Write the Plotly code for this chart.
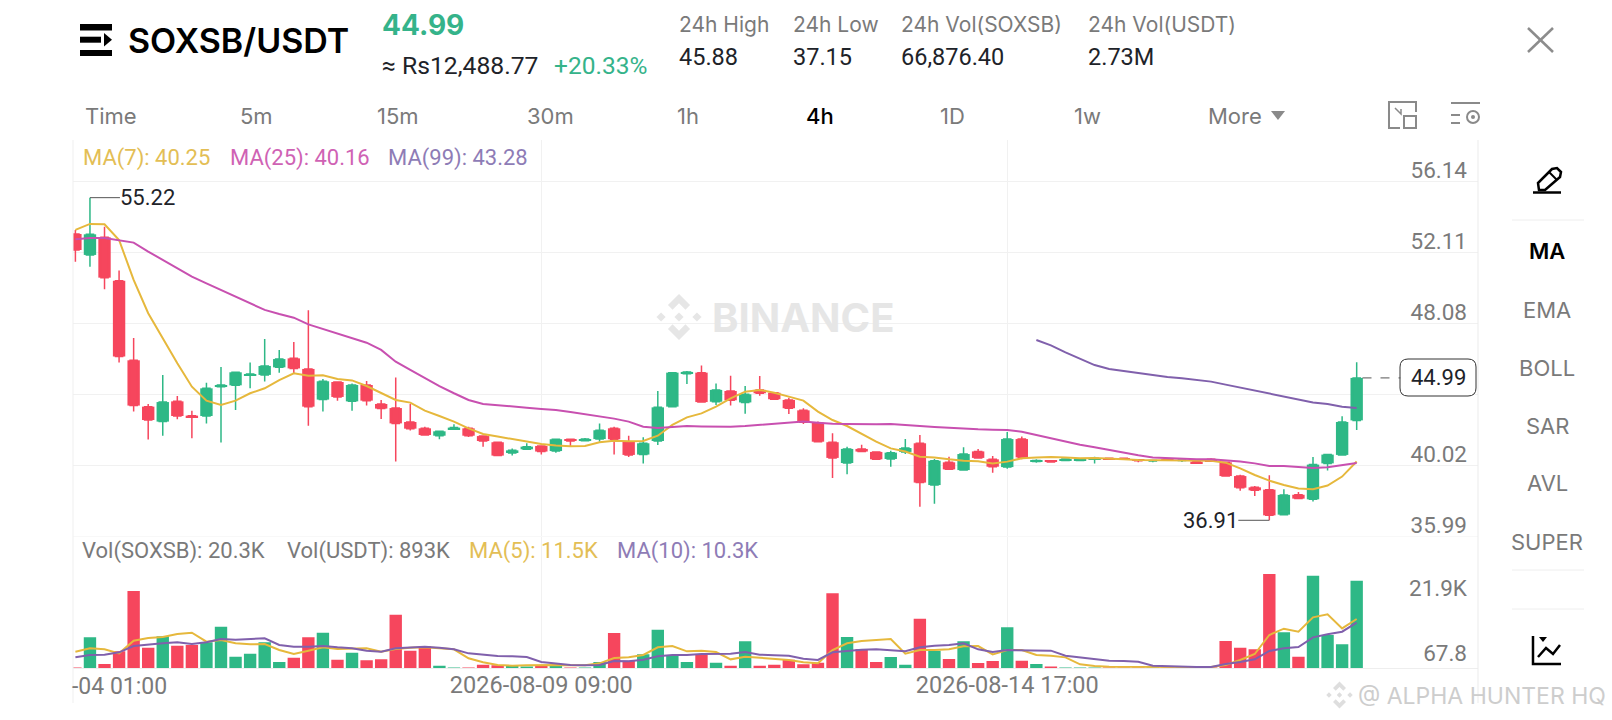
import plotly.graph_objects as go

# ---------- data ----------
open_ = [53.16,51.97,52.97,50.51,45.99,43.36,42.51,43.66,42.85,42.83,44.49,44.57,45.14,45.16,45.59,46.10,45.50,43.76,44.76,43.66,44.59,43.51,43.28,42.49,42.13,41.71,42.07,42.13,41.69,
         41.34,40.73,40.94,41.13,40.84,41.51,41.43,41.52,42.13,41.37,40.64,41.41,43.36,45.23,45.29,43.64,44.25,43.60,44.31,44.15,43.74,43.15,42.45,41.34,40.16,40.96,40.79,40.39,40.79,41.28,38.91,
         40.20,39.76,40.82,40.37,39.93,41.52,40.24,40.29,40.31,40.31,40.37,40.43,40.43,40.35,40.28,40.37,40.31,40.24,40.37,40.20,39.42,38.78,38.65,37.23,38.36,38.10,40.14,40.62,42.58]
high = [53.39,55.22,53.57,51.08,47.26,43.51,45.16,43.96,43.13,44.72,45.61,45.35,45.86,47.20,46.58,47.03,48.83,44.93,44.80,44.68,44.82,43.74,45.02,43.51,42.22,42.00,42.36,42.22,41.73,
        41.35,40.99,41.28,41.17,41.54,41.54,41.58,42.41,42.22,41.71,41.62,44.25,45.29,45.38,45.69,44.68,45.12,44.53,45.10,44.19,43.87,43.27,42.51,41.85,41.09,41.20,40.81,40.86,41.52,41.75,40.39,
        40.52,41.05,40.96,40.56,41.92,41.66,40.37,40.31,40.43,40.39,40.52,40.45,40.45,40.37,40.33,40.39,40.37,40.28,40.43,40.24,39.50,38.86,39.46,38.67,38.52,40.50,40.67,42.81,45.88]
low = [51.59,51.30,50.02,45.86,43.08,41.49,41.71,42.64,41.56,42.41,41.32,43.17,44.40,44.78,45.29,45.25,42.28,43.08,43.70,43.13,43.42,42.66,40.24,42.00,41.71,41.51,42.03,41.64,41.09,
       40.54,40.58,40.90,40.65,40.75,41.13,41.39,41.37,40.65,40.50,40.14,41.18,43.36,44.65,43.60,43.45,43.42,42.96,43.98,43.76,42.94,42.38,41.37,39.31,39.52,40.79,40.37,39.95,40.67,37.68,37.85,
       39.76,39.75,40.41,39.61,39.84,40.37,40.18,40.20,40.29,40.26,40.14,40.35,40.37,40.20,40.20,40.31,40.22,40.14,40.22,39.42,38.59,38.29,36.91,37.21,38.10,37.97,39.73,40.62,42.04]
close = [52.25,53.14,50.68,46.20,43.42,42.60,43.62,42.83,42.77,44.40,44.59,45.31,45.21,45.67,46.06,45.53,43.36,44.80,43.91,44.59,43.70,43.25,42.41,42.11,41.75,41.96,42.17,41.71,41.41,
         40.58,40.88,41.09,40.81,41.51,41.41,41.52,42.02,41.51,40.62,41.28,43.32,45.29,45.33,43.62,44.31,43.72,44.06,44.12,43.78,43.27,42.47,41.37,40.45,40.96,40.81,40.37,40.75,41.01,39.05,40.29,
         39.80,40.67,40.45,39.95,41.52,40.48,40.31,40.22,40.39,40.37,40.43,40.37,40.39,40.29,40.31,40.33,40.33,40.16,40.26,39.42,38.76,38.61,37.19,38.35,38.14,40.07,40.64,42.49,44.99]
ma7 = [53.39,53.73,53.71,52.82,50.55,48.66,47.24,45.82,44.49,43.70,43.45,43.70,44.12,44.40,44.87,45.25,45.12,45.14,44.93,44.85,44.53,44.12,43.74,43.59,43.13,42.83,42.51,42.13,41.81,
       41.66,41.52,41.39,41.24,41.15,41.11,41.13,41.34,41.43,41.39,41.41,41.71,42.32,42.75,42.98,43.36,43.83,44.21,44.31,44.15,43.93,43.70,43.08,42.60,42.26,41.81,41.37,40.99,40.81,40.52,40.48,
       40.37,40.29,40.26,40.14,40.24,40.43,40.47,40.50,40.47,40.43,40.45,40.39,40.37,40.33,40.33,40.33,40.31,40.31,40.29,40.18,39.86,39.48,39.16,38.91,38.71,38.67,38.88,39.39,40.25]
ma25 = [52.86,52.93,52.93,52.82,52.67,52.16,51.68,51.21,50.74,50.36,49.98,49.60,49.22,48.85,48.62,48.41,48.03,47.77,47.52,47.27,46.99,46.58,45.91,45.44,44.97,44.53,44.12,43.74,43.51,
        43.45,43.40,43.30,43.23,43.17,43.06,42.94,42.83,42.68,42.51,42.22,42.15,42.22,42.26,42.24,42.22,42.22,42.26,42.32,42.39,42.47,42.51,42.45,42.39,42.38,42.36,42.36,42.38,42.34,42.26,42.20,
        42.15,42.11,42.07,42.05,42.03,41.94,41.75,41.54,41.35,41.20,41.05,40.90,40.73,40.60,40.48,40.43,40.41,40.37,40.37,40.31,40.24,40.14,39.99,39.99,39.92,39.88,39.92,40.03,40.16]
ma99 = [None]*66 + [47.14,46.84,46.44,46.07,45.72,45.50,45.38,45.25,45.12,45.04,44.97,44.89,44.78,44.61,44.44,44.29,44.10,43.91,43.74,43.60,43.51,43.36,43.28]
volume = [0.05,10.33,1.35,5.62,25.94,6.85,10.67,7.52,7.75,8.65,13.93,3.82,4.83,8.65,2.02,3.48,10.33,11.90,2.81,5.17,2.58,2.92,17.97,5.84,7.30,0.79,0.07,0.07,1.12,
          0.90,0.79,0.22,0.90,0.79,0.11,0.11,2.02,11.79,2.47,4.60,12.91,4.38,2.02,4.60,1.80,0.79,8.98,0.79,1.12,2.81,1.24,1.80,25.16,10.44,6.40,2.02,3.71,1.12,16.62,5.84,
          3.03,8.98,1.68,2.36,13.70,2.47,1.35,0.22,0.08,0.08,0.08,0.08,0.08,0.08,0.08,0.08,0.08,0.08,0.08,9.10,6.85,6.29,31.67,12.02,3.82,31.11,11.12,7.97,29.42]
vol_ma5 = [5.50,6.63,6.29,4.94,9.21,10.11,10.44,11.45,11.90,8.87,9.43,8.31,7.97,8.09,6.06,4.72,5.84,6.96,6.40,6.51,6.63,5.50,6.40,6.85,6.96,6.63,6.29,3.26,1.91,
           1.01,0.79,0.90,1.01,1.01,0.90,0.90,1.57,3.37,3.59,4.38,6.96,7.41,5.62,5.84,5.39,2.92,3.82,3.37,2.92,2.70,1.91,1.57,6.06,8.31,9.10,9.43,9.77,4.83,6.06,6.06,
           6.29,7.30,7.41,4.60,6.06,6.06,4.38,4.16,3.59,1.24,0.67,0.45,0.45,0.45,0.56,0.45,0.34,0.34,0.34,1.01,2.70,4.72,11.12,13.25,12.24,17.07,18.08,13.36,16.51]
vol_ma10 = [3.59,4.38,4.49,5.28,7.41,7.97,8.31,8.65,8.09,8.65,9.77,9.55,9.77,9.99,7.75,7.19,7.19,7.41,6.96,6.63,5.84,5.50,6.63,6.85,7.19,6.85,6.29,4.94,4.38,
            4.04,3.93,3.71,2.02,1.46,1.01,0.90,1.01,2.36,2.25,2.81,3.93,4.38,4.38,4.72,4.83,4.83,5.39,4.49,4.27,4.16,3.14,2.70,5.28,5.73,6.18,6.29,5.84,5.62,6.96,7.52,
            7.75,8.31,6.29,5.39,6.06,6.06,5.84,5.84,4.16,3.59,3.26,2.47,2.36,2.13,0.79,0.56,0.45,0.34,0.34,1.35,2.02,2.92,5.73,6.63,7.07,10.33,11.34,12.24,15.27]
candle_index = list(range(len(close)))
price_ticks = [35.99, 40.02, 44.05, 48.08, 52.11, 56.14]
price_tick_text = ["35.99", "40.02", "", "48.08", "52.11", "56.14"]
vol_ticks = [0.0678, 21.9]
vol_tick_text = ["67.8", "21.9K"]
date_ticks = [32, 64]
date_tick_text = ["2026-08-09 09:00", "2026-08-14 17:00"]

# ---------- styles ----------
W, H = 1612, 720
RED, GREEN = "#F6465D", "#2EB886"
YEL, MAG, PUR = "#E6B83C", "#C850B0", "#8060AC"
GREY = "#7A7A7A"
GRID = "#F1F1F1"
FONT = "Inter"
NUM = "Roboto"
px = lambda x: x / W
py = lambda y: 1 - y / H
XRANGE = [(73 - 75.4) / 14.56, (1478 - 75.4) / 14.56]
candle_colors = [GREEN if c >= o else RED for o, c in zip(open_, close)]

fig = go.Figure()
# wicks and thin bodies
fig.add_trace(go.Candlestick(
    x=candle_index, open=open_, high=high, low=low, close=close, xaxis="x", yaxis="y",
    increasing=dict(line=dict(color=GREEN, width=1.5), fillcolor=GREEN),
    decreasing=dict(line=dict(color=RED, width=1.5), fillcolor=RED),
    whiskerwidth=0, hoverinfo="skip"))
# full-width candle bodies
fig.add_trace(go.Bar(x=candle_index, y=[abs(c - o) for o, c in zip(open_, close)],
                     base=[min(o, c) for o, c in zip(open_, close)],
                     marker=dict(color=candle_colors, line_width=0), width=0.85,
                     xaxis="x", yaxis="y", hoverinfo="skip"))
for vals, col in ((ma7, YEL), (ma25, MAG), (ma99, PUR)):
    fig.add_trace(go.Scatter(x=candle_index, y=vals, mode="lines", line=dict(color=col, width=2),
                             xaxis="x", yaxis="y", hoverinfo="skip"))
fig.add_trace(go.Bar(x=candle_index, y=volume, marker=dict(color=candle_colors, line_width=0),
                     width=0.85, xaxis="x2", yaxis="y2", hoverinfo="skip"))
for vals, col in ((vol_ma5, YEL), (vol_ma10, PUR)):
    fig.add_trace(go.Scatter(x=candle_index, y=vals, mode="lines", line=dict(color=col, width=2),
                             xaxis="x2", yaxis="y2", hoverinfo="skip"))

# ---------- shapes ----------
shapes = []
def path(d, fill=None, color=None, width=0, layer="above"):
    shapes.append(dict(type="path", path=d, xref="paper", yref="paper", layer=layer,
                       fillcolor=fill or "rgba(0,0,0,0)",
                       line=dict(color=color or "rgba(0,0,0,0)", width=width)))
def poly(pts, closed=True, **kw):
    d = "M" + " L".join(f"{px(x):.5f},{py(y):.5f}" for x, y in pts) + (" Z" if closed else "")
    path(d, **kw)
def line(x0, y0, x1, y1, color, width=1):
    shapes.append(dict(type="line", xref="paper", yref="paper", x0=px(x0), y0=py(y0), x1=px(x1), y1=py(y1),
                       line=dict(color=color, width=width)))
def rect(x0, y0, x1, y1, fill):
    shapes.append(dict(type="rect", xref="paper", yref="paper", x0=px(x0), y0=py(y0), x1=px(x1), y1=py(y1),
                       fillcolor=fill, line_width=0))
def binance_logo(cx, cy, s, col):
    top = [(0,-1),(.48,-.52),(.28,-.32),(0,-.6),(-.28,-.32),(-.48,-.52)]
    poly([(cx+a*s, cy+b*s) for a, b in top], fill=col, layer="below")
    poly([(cx+a*s, cy-b*s) for a, b in top], fill=col, layer="below")
    for dx in (-.78, 0, .78):
        poly([(cx+(dx+a)*s, cy+b*s) for a, b in [(0,-.2),(.2,0),(0,.2),(-.2,0)]], fill=col, layer="below")

# chart frame
line(73, 140, 73, 703, "#EFEFEF")
line(1478, 140, 1478, 703, "#EBEBEB")
# watermarks
binance_logo(679, 317, 23, "#E6E6E6")
binance_logo(1339.5, 695, 13.5, "#DEDEDE")
# header logo
rect(80, 24, 112, 30.5, "#000000")
rect(80, 36.7, 101, 42.7, "#000000")
poly([(104, 33), (112, 39.7), (104, 46.5)], fill="#000000")
rect(80, 50, 112, 56, "#000000")
# close X
line(1528, 28, 1553, 52, "#8C8C8C", 2.5)
line(1553, 28, 1528, 52, "#8C8C8C", 2.5)
# More triangle
poly([(1271, 111), (1285, 111), (1278, 120)], fill="#8A8A8A")
# toolbar icon 1
poly([(1416, 112), (1416, 102), (1389, 102), (1389, 128), (1400, 128)], closed=False, color="#8A8A8A", width=2)
poly([(1404, 116), (1416, 116), (1416, 128), (1404, 128)], color="#8A8A8A", width=2)
poly([(1395, 108), (1401, 114), (1401, 109)], closed=False, color="#8A8A8A", width=1.5)
# toolbar icon 2
line(1451, 103, 1480, 103, "#8A8A8A", 2)
line(1451, 115, 1460, 115, "#8A8A8A", 2)
line(1451, 123, 1460, 123, "#8A8A8A", 2)
shapes.append(dict(type="circle", xref="paper", yref="paper", x0=px(1467), y0=py(111), x1=px(1479), y1=py(123),
                   line=dict(color="#8A8A8A", width=2)))
shapes.append(dict(type="circle", xref="paper", yref="paper", x0=px(1471), y0=py(115), x1=px(1475), y1=py(119),
                   fillcolor="#8A8A8A", line_width=0))
# pencil
poly([(1539, 190), (1538, 183), (1552, 169), (1557, 168), (1561, 172), (1560, 177), (1545, 190)], color="#000000", width=2.5)
line(1549, 172, 1557, 180, "#000000", 2)
line(1533, 192.5, 1561, 192.5, "#000000", 2.5)
# right menu dividers
for yy in (220, 570, 609):
    line(1512, yy, 1584, yy, "#EEEEEE")
# chart icon
poly([(1533, 636), (1533, 664), (1561, 664)], closed=False, color="#000000", width=2.5)
poly([(1538, 657), (1546, 648), (1553, 654), (1560, 645)], closed=False, color="#000000", width=2.5)
poly([(1539, 637), (1547, 637), (1543, 642)], fill="#000000")
# price tag
x0, x1, y0, y1, r = 1400, 1476, 359, 396, 8
path(f"M{px(x0+r)},{py(y0)} L{px(x1-r)},{py(y0)} Q{px(x1)},{py(y0)} {px(x1)},{py(y0+r)} L{px(x1)},{py(y1-r)} "
     f"Q{px(x1)},{py(y1)} {px(x1-r)},{py(y1)} L{px(x0+r)},{py(y1)} Q{px(x0)},{py(y1)} {px(x0)},{py(y1-r)} "
     f"L{px(x0)},{py(y0+r)} Q{px(x0)},{py(y0)} {px(x0+r)},{py(y0)} Z", fill="#FFFFFF", color="#333333", width=1)
# dashed last-price link
shapes.append(dict(type="line", xref="x", yref="y", x0=88.4, x1=91, y0=close[-1], y1=close[-1],
                   line=dict(color="#555555", width=1, dash="dash")))

# ---------- texts ----------
ann = []
def txt(x, y, s, size=20, color=GREY, anchor="left", weight=400, family=NUM):
    ann.append(dict(x=px(x - 2 if anchor == "left" else x), y=py(y), xref="paper", yref="paper", text=s, showarrow=False,
                    xanchor=anchor, yanchor="middle", borderpad=0,
                    font=dict(family=family, size=size, color=color, weight=weight)))
txt(129, 40, "SOXSB/USDT", 34, "#000000", weight=600, family=FONT)
txt(383, 25, "44.99", 28, "#35B38A", weight=700, family=FONT)
txt(383, 65, "≈ Rs12,488.77", 24.7, "#1E2329")
txt(555, 65, "+20.33%", 24.5, "#35B38A")
for x, s in ((680, "24h High"), (793.6, "24h Low"), (901.6, "24h Vol(SOXSB)"), (1088.7, "24h Vol(USDT)")):
    txt(x, 25, s, 21, GREY, family=FONT)
for x, s in ((680, "45.88"), (793.6, "37.15"), (901.6, "66,876.40"), (1088.7, "2.73M")):
    txt(x, 57, s, 23.5, "#1E2329")
for x, s in ((85.7, "Time"), (240.7, "5m"), (378, "15m"), (528, "30m"), (678, "1h"), (940.5, "1D"), (1075, "1w"), (1209, "More")):
    txt(x, 116.5, s, 22, GREY, family=FONT)
txt(807, 116.5, "4h", 22, "#000000", weight=500, family=FONT)
txt(83.7, 158, "MA(7): 40.25", 22, "#E3BE55")
txt(231, 158, "MA(25): 40.16", 22, "#CF62B4")
txt(389, 158, "MA(99): 43.28", 22, "#8E7CB6")
txt(83, 551, "Vol(SOXSB): 20.3K", 22, GREY)
txt(288, 551, "Vol(USDT): 893K", 22, GREY)
txt(470, 551, "MA(5): 11.5K", 22, "#E3BE55")
txt(618, 551, "MA(10): 10.3K", 22, "#8E7CB6")
txt(1438, 377.5, "44.99", 22, "#1E2329", "center")
txt(803, 317, "BINANCE", 40, "#E6E6E6", "center", 700, family=FONT)
txt(1547, 251, "MA", 22, "#000000", "center", 600, family=FONT)
for yy, s in ((310, "EMA"), (368, "BOLL"), (425.6, "SAR"), (483, "AVL"), (541.8, "SUPER")):
    txt(1547, yy, s, 22, GREY, "center", family=FONT)
txt(1359, 695.5, "@ ALPHA HUNTER HQ", 23, "#CDCDCD", family=FONT)
txt(73, 686, "-04 01:00", 23, GREY)
for ax, s, val, i in ((58, "55.22", 55.22, 1), (-59, "36.91", 36.91, 82)):
    ann.append(dict(x=i, y=val, xref="x", yref="y", text=s, showarrow=True, ax=ax, ay=0, axref="pixel", ayref="pixel",
                    arrowhead=0, arrowwidth=1, arrowcolor="#555555", standoff=0, borderpad=0,
                    font=dict(family=NUM, size=22, color="#1E2329")))

axis_font = dict(family=NUM, size=22.5, color=GREY)
date_font = dict(family=NUM, size=23.5, color=GREY)
fig.update_layout(
    width=W, height=H, margin=dict(l=0, r=0, t=0, b=0), paper_bgcolor="#FFFFFF", plot_bgcolor="#FFFFFF",
    showlegend=False, barmode="overlay", shapes=shapes, annotations=ann,
    xaxis=dict(domain=[px(73), px(1478)], range=XRANGE, anchor="y", tickmode="array", tickvals=date_ticks,
               showticklabels=False, showgrid=True, gridcolor=GRID, gridwidth=1, zeroline=False,
               rangeslider=dict(visible=False), ticks=""),
    yaxis=dict(domain=[py(548), py(140)], range=[35.99 - (548 - 536.5) / 17.62, 35.99 + (536.5 - 140) / 17.62],
               anchor="x", side="right",
               tickmode="array", tickvals=price_ticks, ticktext=price_tick_text, tickfont=axis_font,
               ticklabelposition="inside top", ticklabelstandoff=8, ticklabelshift=4, showgrid=True, gridcolor=GRID,
               gridwidth=1, zeroline=False, ticks=""),
    xaxis2=dict(domain=[px(73), px(1478)], range=XRANGE, anchor="y2", tickmode="array", tickvals=date_ticks,
                ticktext=date_tick_text, tickfont=date_font, ticklabelstandoff=-4, showgrid=True, gridcolor=GRID, gridwidth=1,
                zeroline=False, showline=True, linecolor="#EEEEEE", linewidth=1, ticks=""),
    yaxis2=dict(domain=[py(668), py(536.5)], range=[0, (668 - 536.5) * 0.337], anchor="x2", side="right",
                tickmode="array", tickvals=vol_ticks, ticktext=vol_tick_text, tickfont=axis_font,
                ticklabelposition="inside top", ticklabelstandoff=8, ticklabelshift=1, showgrid=False, zeroline=False, ticks=""),
)
fig.write_html("out.html", post_script="document.body.style.margin='0';document.body.style.background='#fff';",
               config=dict(displayModeBar=False))
